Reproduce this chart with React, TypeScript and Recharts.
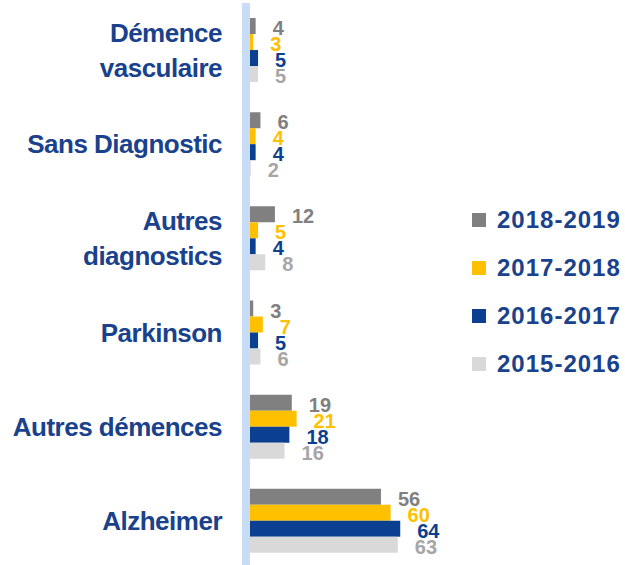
import { BarChart, Bar, XAxis, YAxis, Legend, LabelList } from 'recharts';

const categories = [
  'Démence vasculaire',
  'Sans Diagnostic',
  'Autres diagnostics',
  'Parkinson',
  'Autres démences',
  'Alzheimer',
];

// category labels split over lines like in the source
const categoryLines: Record<string, string[]> = {
  'Démence vasculaire': ['Démence', 'vasculaire'],
  'Autres diagnostics': ['Autres', 'diagnostics'],
};

const years = ['2018-2019', '2017-2018', '2016-2017', '2015-2016'];

const v2018_2019 = [4, 6, 12, 3, 19, 56];
const v2017_2018 = [3, 4, 5, 7, 21, 60];
const v2016_2017 = [5, 4, 4, 5, 18, 64];
const v2015_2016 = [5, 2, 8, 6, 16, 63];

const BAR_COLORS = ['#808080', '#FFC000', '#0B3F8F', '#D9D9D9'];
const LABEL_COLORS = ['#808080', '#FFC000', '#0B3F8F', '#A6A6A6'];
const TEXT_BLUE = '#1A428C';
const FONT = '"Liberation Sans", Arial, sans-serif';

const data = categories.map((name, i) => ({
  name,
  '2018-2019': v2018_2019[i],
  '2017-2018': v2017_2018[i],
  '2016-2017': v2016_2017[i],
  '2015-2016': v2015_2016[i],
}));

function CategoryTick(props: any) {
  const { y, payload } = props;
  const lines = categoryLines[payload.value] || [payload.value];
  const start = -((lines.length - 1) * 35) / 2;
  return (
    <text
      x={222}
      y={y}
      textAnchor="end"
      fill={TEXT_BLUE}
      fontSize={26}
      fontWeight="bold"
      letterSpacing={-0.5}
      fontFamily={FONT}
    >
      {lines.map((l: string, i: number) => (
        <tspan key={l} x={222} dy={i === 0 ? start + 9 : 35}>
          {l}
        </tspan>
      ))}
    </text>
  );
}

function YearLegend({ payload }: any) {
  const items = [...(payload || [])].sort(
    (a: any, b: any) => years.indexOf(a.value) - years.indexOf(b.value)
  );
  return (
    <div>
      {items.map((p: any) => (
        <div
          key={p.value}
          style={{
            display: 'flex',
            alignItems: 'center',
            height: 48,
            fontFamily: FONT,
            fontWeight: 'bold',
            fontSize: 24,
            letterSpacing: 1,
            color: TEXT_BLUE,
          }}
        >
          <span
            style={{
              display: 'inline-block',
              width: 14,
              height: 14,
              background: p.color,
              marginRight: 11,
            }}
          />
          {p.value}
        </div>
      ))}
    </div>
  );
}

export default function App() {
  return (
    <div style={{ width: 625, height: 565, overflow: 'hidden', background: '#fff' }}>
      <style>{'body{margin:0}'}</style>
      <BarChart
        width={625}
        height={570}
        data={data}
        layout="vertical"
        margin={{ top: 3, right: 138, bottom: 2, left: 0 }}
        barGap={0}
      >
        <XAxis type="number" domain={[0, 100]} hide />
        {years.map((y, i) => (
          <Bar
            key={y}
            dataKey={y}
            fill={BAR_COLORS[i]}
            barSize={16}
            isAnimationActive={false}
          >
            <LabelList
              dataKey={y}
              position="right"
              offset={17}
              fill={LABEL_COLORS[i]}
              fontSize={20}
              fontWeight="bold"
              fontFamily={FONT}
              dy={2}
            />
          </Bar>
        ))}
        <YAxis
          type="category"
          dataKey="name"
          width={246}
          axisLine={{ stroke: '#C9DCF6', strokeWidth: 8 }}
          tickLine={false}
          tick={<CategoryTick />}
          interval={0}
        />
        <Legend
          layout="vertical"
          align="center"
          verticalAlign="middle"
          content={<YearLegend />}
          wrapperStyle={{ left: 472, top: 196, width: 160 }}
        />
      </BarChart>
    </div>
  );
}
